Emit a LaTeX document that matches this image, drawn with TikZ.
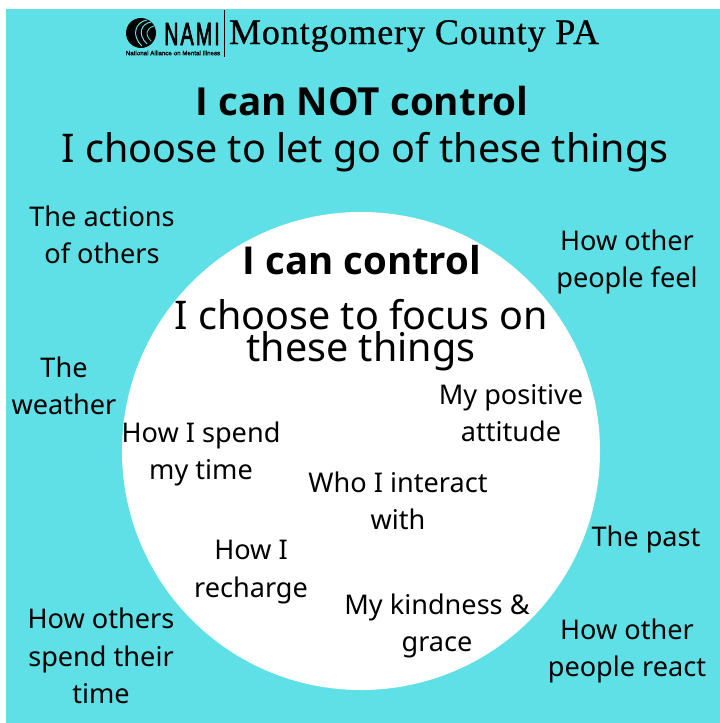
\documentclass[tikz,border=0pt]{standalone}
\usepackage{fontspec}
\setmainfont{Noto Sans}
\newfontfamily\boldf{Open Sans}[BoldFont=Open Sans Bold]
\newfontfamily\serifb{Liberation Serif}[FakeBold=0.8,LetterSpace=2.5]
\newfontfamily\narrowb{Liberation Sans}[FakeBold=3,LetterSpace=10]
\newfontfamily\subb{Liberation Sans}[FakeBold=1.5]
\definecolor{bgc}{RGB}{94,224,230}
\tikzset{x=1pt,y=-1pt,
 lab/.style={align=center,font=\fontsize{27.1}{37.5}\selectfont,text=black,inner sep=0pt},
 head/.style={align=center,inner sep=0pt,text=black}}
\begin{document}
\begin{tikzpicture}
\useasboundingbox (0,0) rectangle (720,723);
\fill[white] (0,0) rectangle (720,723);
\fill[bgc] (6,9) rectangle (720,723);
\fill[white] (361,451) circle (239);
\node[head,font=\fontsize{36}{40}\serifb\selectfont] (brand) at (414,36) {Montgomery County PA};
\node[head,font=\fontsize{32}{32}\narrowb\selectfont,xscale=0.62,text height=23pt,text depth=0pt] (nami) at (192,33.5) {NAMI};
\node[head,font=\fontsize{6.2}{7}\subb\selectfont] (nsub) at (173,53) {National Alliance on Mental Illness};
\fill[black] (141,33) circle (15);
\draw[bgc,line width=1pt] (147,20) .. controls (135,22) and (131,36) .. (142,46);
\draw[bgc,line width=1pt] (151,22) .. controls (141,24) and (137,34) .. (147,44);
\draw[bgc,line width=0.8pt] (154,26) .. controls (147,28) and (144,34) .. (151,41);
\draw[black,line width=0.6pt] (224,10) -- (224,57);
\node[head,font=\boldf\fontsize{38.6}{44}\selectfont\bfseries] (t1) at (362,101) {I can NOT control};
\node[head,font=\fontsize{39.5}{46}\selectfont] (t2) at (365,152) {I choose to let go of these things};
\node[head,font=\boldf\fontsize{38.4}{44}\selectfont\bfseries] (t3) at (362,260) {I can control};
\node[head,font=\fontsize{39.5}{32}\selectfont] (t4) at (361,335) {I choose to focus on\\these things};
\node[lab] (a) at (102,235) {The actions\\of others};
\node[lab] (b) at (627,262) {How other\\people feel};
\node[lab] (c) at (64,386) {The\\weather};
\node[lab] (d) at (511,413) {My positive\\attitude};
\node[lab] (e) at (201,454) {How I spend\\my time};
\node[lab] (f) at (398,501) {Who I interact\\with};
\node[lab] (g) at (251,572) {How I\\recharge};
\node[lab] (h) at (437,626) {My kindness \&\\grace};
\node[lab] (i) at (646,539) {The past};
\node[lab] (j) at (627,651) {How other\\people react};
\node[lab] (k) at (101,656) {How others\\spend their\\time};
\end{tikzpicture}
\end{document}
